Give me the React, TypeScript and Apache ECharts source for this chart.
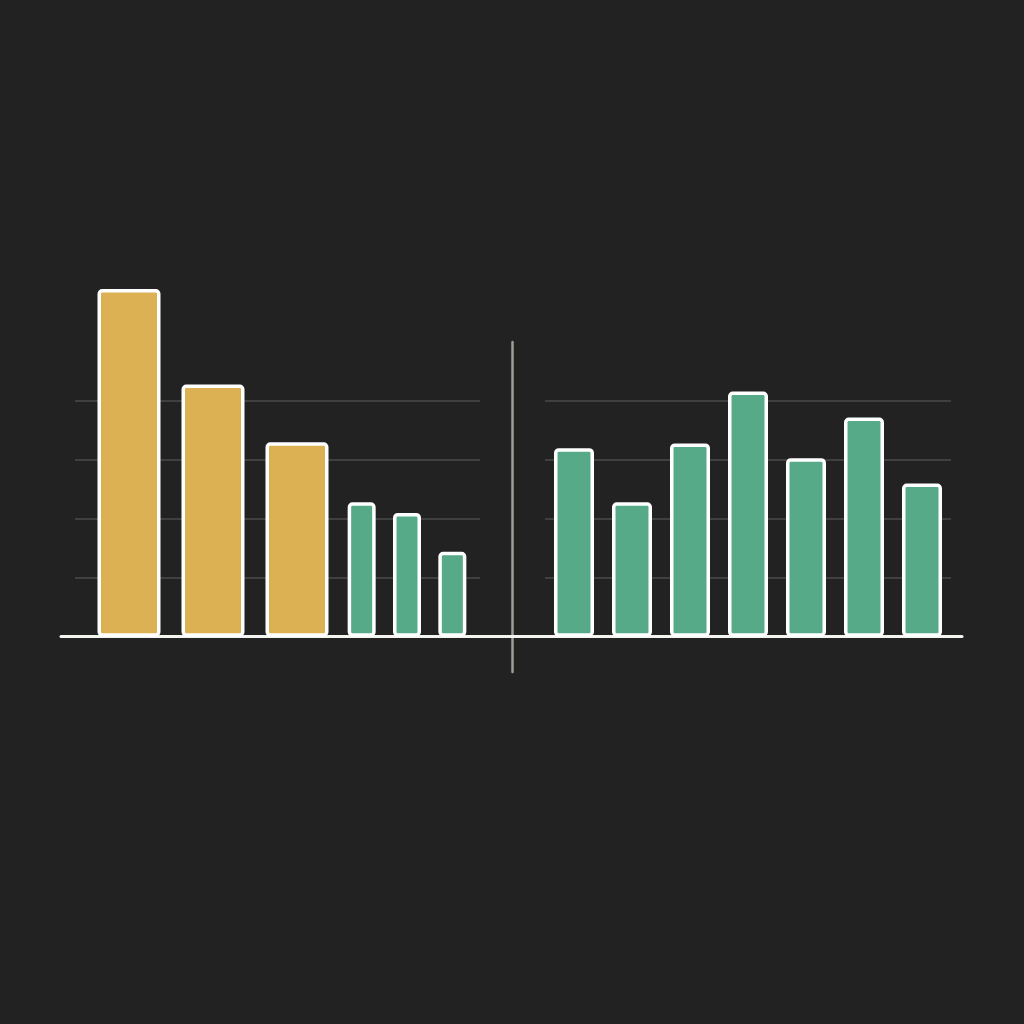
import React, { useEffect, useRef } from "react";
import * as echarts from "echarts";

const leftYellowCategories = ["A", "B", "C"];
const leftYellowValues = [5.9, 4.28, 3.3];
const leftGreenCategories = ["D", "E", "F"];
const leftGreenValues = [2.28, 2.1, 1.44];
const rightCategories = ["G", "H", "I", "J", "K", "L", "M"];
const rightValues = [3.2, 2.28, 3.28, 4.16, 3.03, 3.72, 2.6];
const yMax = 4;

const BG = "#222222";
const YELLOW = "#dbb154";
const GREEN = "#56aa88";
const GRIDLINE = "#4b4b4b";

export default function App() {
  const ref = useRef<HTMLDivElement>(null);
  useEffect(() => {
    if (!ref.current) return;
    const chart = echarts.init(ref.current, null, { renderer: "svg" });
    const top = 401;
    const height = 235.7;
    const barStyle = (color: string) => ({
      color,
      borderColor: "#ffffff",
      borderWidth: 3.5,
      borderRadius: 3,
    });
    const hiddenCat = (gridIndex: number, data: string[]) => ({
      type: "category",
      gridIndex,
      data,
      axisLine: { show: false },
      axisTick: { show: false },
      axisLabel: { show: false },
      splitLine: { show: false },
    });
    const hiddenVal = (gridIndex: number, withSplit: boolean) => ({
      type: "value",
      gridIndex,
      min: 0,
      max: yMax,
      interval: 1,
      axisLine: { show: false },
      axisTick: { show: false },
      axisLabel: { show: false },
      splitLine: {
        show: withSplit,
        lineStyle: { color: GRIDLINE, width: 1.5 },
      },
    });
    chart.setOption({
      animation: false,
      backgroundColor: BG,
      grid: [
        { left: 75, width: 405, top, height },
        { left: 87, width: 252, top, height },
        { left: 339, width: 136, top, height },
        { left: 545, width: 406, top, height },
        { left: 61, width: 901, top, height },
        { left: 512, width: 10, top: 342, height: 330 },
      ],
      xAxis: [
        { type: "value", gridIndex: 0, min: 0, max: 1, show: false },
        hiddenCat(1, leftYellowCategories),
        hiddenCat(2, leftGreenCategories),
        hiddenCat(3, rightCategories),
        {
          type: "value",
          gridIndex: 4,
          min: 0,
          max: 1,
          axisLine: { show: true, onZero: false, lineStyle: { color: "#f4f4f0", width: 3 } },
          axisTick: { show: false },
          axisLabel: { show: false },
          splitLine: { show: false },
        },
        { type: "value", gridIndex: 5, min: 0, max: 1, show: false },
      ],
      yAxis: [
        hiddenVal(0, true),
        hiddenVal(1, false),
        hiddenVal(2, false),
        hiddenVal(3, true),
        hiddenVal(4, false),
        {
          type: "value",
          gridIndex: 5,
          min: 0,
          max: 1,
          axisLine: { show: true, onZero: false, lineStyle: { color: "#a09e96", width: 2.5 } },
          axisTick: { show: false },
          axisLabel: { show: false },
          splitLine: { show: false },
        },
      ],
      series: [
        {
          type: "bar",
          xAxisIndex: 1,
          yAxisIndex: 1,
          data: leftYellowValues,
          barWidth: 63,
          clip: false,
          itemStyle: barStyle(YELLOW),
        },
        {
          type: "bar",
          xAxisIndex: 2,
          yAxisIndex: 2,
          data: leftGreenValues,
          barWidth: 28,
          clip: false,
          itemStyle: barStyle(GREEN),
        },
        {
          type: "bar",
          xAxisIndex: 3,
          yAxisIndex: 3,
          data: rightValues,
          barWidth: 40,
          clip: false,
          itemStyle: barStyle(GREEN),
        },
      ],
    });
    return () => chart.dispose();
  }, []);
  return (
    <div
      ref={ref}
      style={{ position: "absolute", left: 0, top: 0, width: 1024, height: 1024 }}
    />
  );
}
